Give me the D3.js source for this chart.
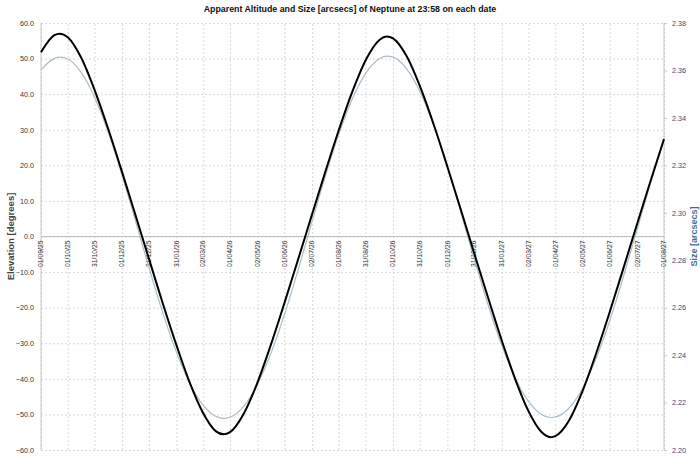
<!DOCTYPE html>
<html>
<head>
<meta charset="utf-8">
<script src="https://cdnjs.cloudflare.com/ajax/libs/d3/7.8.5/d3.min.js"></script>
<style>
  body { margin: 0; background: #fff; }
  svg { font-family: "Liberation Sans", Arial, sans-serif; }
  .grid line { stroke: #d9d9d9; stroke-dasharray: 2,2; }
  .grid .domain { display: none; }
</style>
</head>
<body>
<svg id="chart" width="700" height="456"></svg>
<script>
// sample dates (yyyy-mm-dd)
var dates = ["2025-09-01","2025-09-16","2025-09-22","2025-10-01","2025-10-16","2025-11-01","2025-11-16","2025-12-01","2025-12-16",
  "2026-01-01","2026-01-16","2026-02-01","2026-02-16","2026-03-01","2026-03-16","2026-03-25","2026-04-01","2026-04-16","2026-05-01",
  "2026-05-16","2026-06-01","2026-06-16","2026-07-01","2026-07-16","2026-08-01","2026-08-16","2026-09-01","2026-09-16","2026-09-24",
  "2026-10-01","2026-10-16","2026-11-01","2026-11-16","2026-12-01","2026-12-16",
  "2027-01-01","2027-01-16","2027-02-01","2027-02-16","2027-03-01","2027-03-16","2027-03-27","2027-04-01","2027-04-16","2027-05-01",
  "2027-05-16","2027-06-01","2027-06-16","2027-07-01","2027-07-16","2027-08-01"];

// elevation [degrees]
var elevation = [51.8,56.6,57.0,56.0,50.3,40.6,29.8,18.1,6.0,
  -7.0,-19.1,-31.3,-41.8,-49.2,-54.7,-55.6,-55.0,-50.0,-41.6,-31.1,-18.8,-6.8,5.3,17.4,29.8,40.5,49.9,55.3,56.2,55.7,50.8,41.7,31.2,19.6,7.6,
  -5.5,-17.5,-30.0,-40.7,-48.6,-54.8,-56.4,-56.1,-51.9,-43.8,-33.5,-21.3,-9.3,2.9,14.9,27.4];

// apparent size [arcsecs]
var size = [2.3602,2.3651,2.3656,2.3648,2.3592,2.3480,2.3333,2.3157,2.2966,
  2.2758,2.2574,2.2402,2.2273,2.2193,2.2142,2.2133,2.2138,2.2182,2.2270,2.2398,2.2569,2.2753,2.2948,2.3141,2.3330,2.3478,2.3592,2.3650,2.3660,
  2.3656,2.3608,2.3504,2.3363,2.3192,2.3002,
  2.2794,2.2607,2.2430,2.2296,2.2210,2.2151,2.2137,2.2139,2.2175,2.2256,2.2378,2.2544,2.2725,2.2919,2.3113,2.3306];

var tickLabels = ["01/09/25","01/10/25","31/10/25","01/12/25","31/12/25","31/01/26","02/03/26","01/04/26","02/05/26","01/06/26",
  "02/07/26","01/08/26","31/08/26","01/10/26","31/10/26","01/12/26","31/12/26","31/01/27","02/03/27","01/04/27","02/05/27",
  "01/06/27","02/07/27","01/08/27"];

var elevTicks = [-60,-50,-40,-30,-20,-10,0,10,20,30,40,50,60];
var sizeTicks = [2.20,2.22,2.24,2.26,2.28,2.30,2.32,2.34,2.36,2.38];

var margin = {top: 23, right: 36, bottom: 6, left: 41},
    width = 700 - margin.left - margin.right,
    height = 456 - margin.top - margin.bottom;

var parseIso = d3.timeParse("%Y-%m-%d"),
    parseTick = d3.timeParse("%d/%m/%y"),
    fmtTick = d3.timeFormat("%d/%m/%y");

var data = dates.map(function(d, i) {
  return {date: parseIso(d), elev: elevation[i], size: size[i]};
});
var tickDates = tickLabels.map(parseTick);

var x = d3.scaleTime()
    .domain([tickDates[0], tickDates[tickDates.length - 1]])
    .range([0, width]);

var y = d3.scaleLinear()
    .domain([-60, 60])
    .range([height, 0]);

var y2 = d3.scaleLinear()
    .domain([2.20, 2.38])
    .range([height, 0]);

var svg = d3.select("#chart");

svg.append("text")
    .attr("x", 350)
    .attr("y", 12)
    .attr("text-anchor", "middle")
    .style("font-size", "8.8px")
    .style("font-weight", "bold")
    .style("fill", "#111")
    .text("Apparent Altitude and Size [arcsecs] of Neptune at 23:58 on each date");

var g = svg.append("g")
    .attr("transform", "translate(" + margin.left + "," + margin.top + ")");

// grid
g.append("g")
    .attr("class", "grid")
    .call(d3.axisLeft(y).tickValues(elevTicks).tickSize(-width).tickFormat(""));

g.append("g")
    .attr("class", "grid")
    .attr("transform", "translate(0," + height + ")")
    .call(d3.axisBottom(x).tickValues(tickDates).tickSize(-height).tickFormat(""));

// frame lines
g.append("line").attr("x1", 0).attr("x2", 0).attr("y1", 0).attr("y2", height).style("stroke", "#c8c8c8");
g.append("line").attr("x1", width).attr("x2", width).attr("y1", 0).attr("y2", height).style("stroke", "#c8c8c8");
g.append("line").attr("x1", 0).attr("x2", width).attr("y1", y(0)).attr("y2", y(0)).style("stroke", "#c0c0c0");

// left axis
var yAxis = g.append("g")
    .call(d3.axisLeft(y).tickValues(elevTicks).tickSize(0).tickPadding(7).tickFormat(d3.format(".1f")));
yAxis.select(".domain").remove();
yAxis.selectAll("text").style("font-size", "7.2px").style("fill", "#333");

// right axis
var y2Axis = g.append("g")
    .attr("transform", "translate(" + width + ",0)")
    .call(d3.axisRight(y2).tickValues(sizeTicks).tickSize(3).tickPadding(5).tickFormat(d3.format(".2f")));
y2Axis.select(".domain").remove();
y2Axis.selectAll("line").style("stroke", "#c8c8c8");
y2Axis.selectAll("text").style("font-size", "7.2px").style("fill", "#2b4c7e");

// date labels along zero line
g.append("g").selectAll("text")
    .data(tickDates)
  .enter().append("text")
    .attr("transform", function(d) { return "translate(" + x(d) + "," + (y(0) + 4) + ") rotate(-90)"; })
    .attr("dy", "0.33em")
    .attr("text-anchor", "end")
    .style("font-size", "6.8px")
    .style("fill", "#333")
    .text(function(d) { return fmtTick(d); });

// axis titles
svg.append("text")
    .attr("transform", "translate(11," + (margin.top + y(0)) + ") rotate(-90)")
    .attr("text-anchor", "middle")
    .attr("dy", "0.35em")
    .style("font-size", "9.5px")
    .style("font-weight", "bold")
    .style("fill", "#444")
    .text("Elevation [degrees]");

svg.append("text")
    .attr("transform", "translate(694," + (margin.top + y(0)) + ") rotate(-90)")
    .attr("text-anchor", "middle")
    .attr("dy", "0.35em")
    .style("font-size", "9px")
    .style("font-weight", "bold")
    .style("fill", "#3f6fa0")
    .text("Size [arcsecs]");

// series
var sizeLine = d3.line()
    .x(function(d) { return x(d.date); })
    .y(function(d) { return y2(d.size); })
    .curve(d3.curveMonotoneX);

var elevLine = d3.line()
    .x(function(d) { return x(d.date); })
    .y(function(d) { return y(d.elev); })
    .curve(d3.curveMonotoneX);

g.append("path")
    .datum(data)
    .attr("d", sizeLine)
    .style("fill", "none")
    .style("stroke", "#a9bec8")
    .style("stroke-width", 1.2);

g.append("path")
    .datum(data)
    .attr("d", elevLine)
    .style("fill", "none")
    .style("stroke", "#000")
    .style("stroke-width", 2);
</script>
</body>
</html>
